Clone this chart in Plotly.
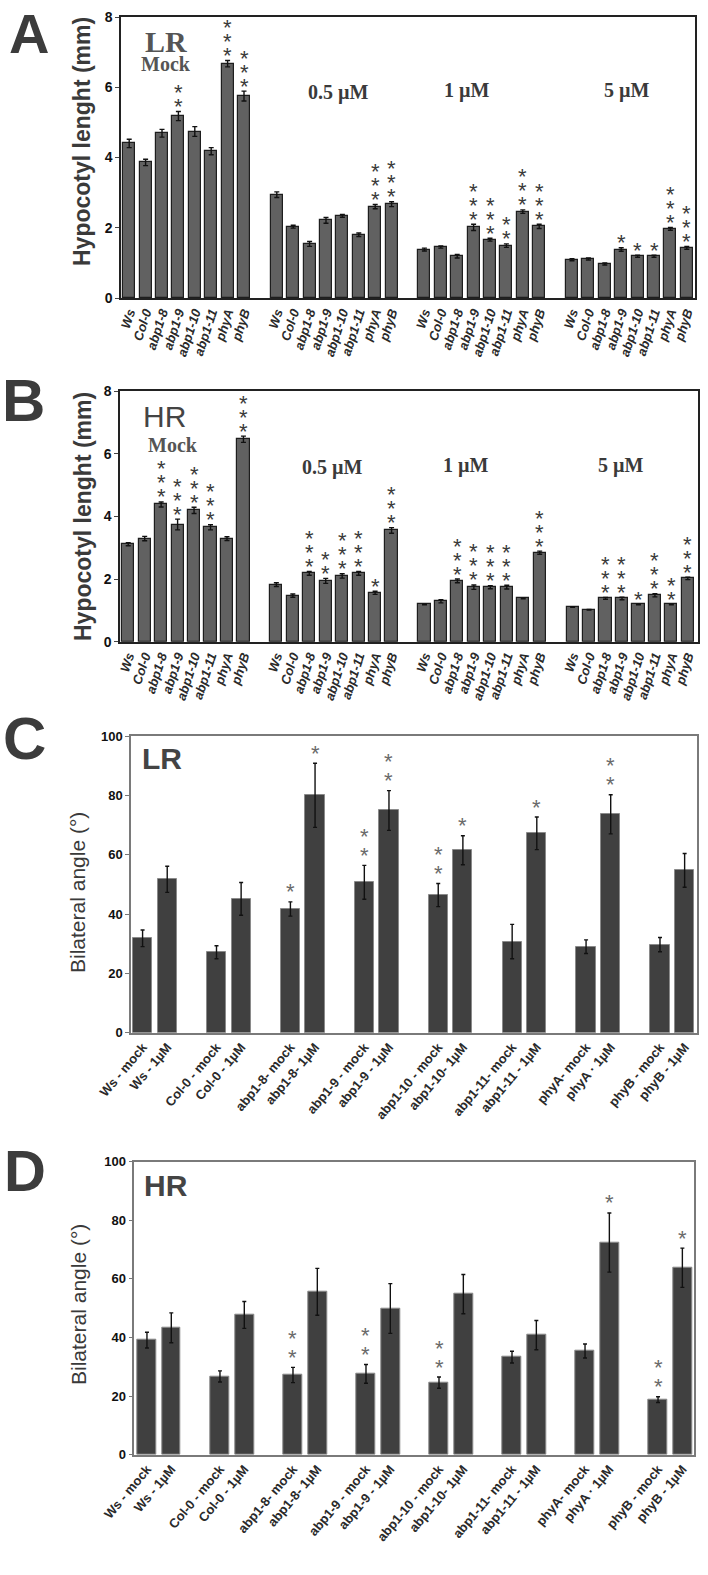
import plotly.graph_objects as go

W, H = 708, 1575

# ---------------- data ----------------
genotypes = ["Ws", "Col-0", "abp1-8", "abp1-9", "abp1-10", "abp1-11", "phyA", "phyB"]
conc_groups = ["Mock", "0.5 µM", "1 µM", "5 µM"]

# Panel A : LR hypocotyl length (mm)
lr_mock = [4.40, 3.86, 4.69, 5.18, 4.74, 4.18, 6.67, 5.75]
lr_05 = [2.94, 2.03, 1.54, 2.21, 2.34, 1.80, 2.60, 2.67]
lr_1 = [1.38, 1.45, 1.19, 2.01, 1.66, 1.49, 2.46, 2.04]
lr_5 = [1.09, 1.11, 0.97, 1.38, 1.19, 1.19, 1.97, 1.43]
lr_mock_err = [0.12, 0.09, 0.11, 0.13, 0.14, 0.10, 0.09, 0.14]
lr_05_err = [0.08, 0.04, 0.07, 0.08, 0.04, 0.05, 0.06, 0.07]
lr_1_err = [0.04, 0.03, 0.05, 0.09, 0.04, 0.05, 0.05, 0.06]
lr_5_err = [0.03, 0.03, 0.03, 0.05, 0.03, 0.03, 0.04, 0.04]
lr_mock_stars = [0, 0, 0, 2, 0, 0, 3, 3]
lr_05_stars = [0, 0, 0, 0, 0, 0, 3, 3]
lr_1_stars = [0, 0, 0, 3, 3, 2, 3, 3]
lr_5_stars = [0, 0, 0, 1, 1, 1, 3, 3]

# Panel B : HR hypocotyl length (mm)
hr_mock = [3.11, 3.29, 4.38, 3.74, 4.19, 3.65, 3.29, 6.46]
hr_05 = [1.82, 1.47, 2.18, 1.94, 2.10, 2.18, 1.56, 3.55]
hr_1 = [1.19, 1.29, 1.94, 1.74, 1.74, 1.74, 1.38, 2.84]
hr_5 = [1.11, 1.02, 1.38, 1.38, 1.19, 1.48, 1.19, 2.02]
hr_mock_err = [0.05, 0.07, 0.08, 0.17, 0.10, 0.08, 0.06, 0.10]
hr_05_err = [0.06, 0.05, 0.06, 0.08, 0.07, 0.06, 0.05, 0.09]
hr_1_err = [0.01, 0.05, 0.06, 0.07, 0.05, 0.06, 0.01, 0.05]
hr_5_err = [0.01, 0.01, 0.03, 0.04, 0.01, 0.05, 0.01, 0.04]
hr_mock_stars = [0, 0, 3, 3, 3, 3, 0, 3]
hr_05_stars = [0, 0, 3, 2, 3, 3, 1, 3]
hr_1_stars = [0, 0, 3, 3, 3, 3, 0, 3]
hr_5_stars = [0, 0, 3, 3, 1, 3, 2, 3]

# Panels C / D : bilateral angle (deg)
angle_labels = [
    "Ws - mock", "Ws - 1µM", "Col-0 - mock", "Col-0 - 1µM",
    "abp1-8- mock", "abp1-8- 1µM", "abp1-9 - mock", "abp1-9 - 1µM",
    "abp1-10 - mock", "abp1-10- 1µM", "abp1-11- mock", "abp1-11 - 1µM",
    "phyA- mock", "phyA · 1µM", "phyB - mock", "phyB - 1µM",
]
lr_angle = [31.8, 51.7, 27.1, 45.1, 41.7, 80.0, 50.7, 74.9,
            46.4, 61.5, 30.7, 67.2, 29.0, 73.6, 29.7, 54.7]
lr_angle_err = [2.8, 4.4, 2.2, 5.5, 2.4, 10.8, 5.7, 6.7,
                3.9, 4.9, 5.8, 5.5, 2.3, 6.6, 2.4, 5.7]
lr_angle_stars = [0, 0, 0, 0, 1, 1, 2, 2, 2, 1, 0, 1, 0, 2, 0, 0]

hr_angle = [39.1, 43.3, 26.7, 47.7, 27.2, 55.6, 27.6, 49.9,
            24.6, 54.8, 33.3, 40.8, 35.4, 72.4, 18.8, 63.8]
hr_angle_err = [2.7, 5.1, 1.9, 4.6, 2.6, 8.0, 3.2, 8.5,
                1.9, 6.7, 2.0, 5.0, 2.4, 10.1, 1.0, 6.7]
hr_angle_stars = [0, 0, 0, 0, 2, 0, 2, 0, 2, 0, 0, 0, 0, 1, 2, 1]

# ---------------- helpers ----------------
def dom_x(a, b):
    return [a / W, b / W]

def dom_y(top, bottom):
    return [1 - bottom / H, 1 - top / H]

SANS = "Liberation Sans, Arial, sans-serif"
SERIF = "Liberation Serif, Times New Roman, serif"

fig = go.Figure()
annotations = []

def add_stars(xs, tops, counts, axn, size, color, first, step):
    for x, t, n in zip(xs, tops, counts):
        for k in range(n):
            annotations.append(dict(
                x=x, y=t, xref=f"x{axn}", yref=f"y{axn}", text="*",
                showarrow=False, xanchor="center", yanchor="middle",
                yshift=first + k * step,
                font=dict(family=SANS, size=size, color=color)))

def paper_text(px, py, text, size, family, color, bold=False, xanchor="center", yanchor="middle"):
    annotations.append(dict(
        x=px / W, y=1 - py / H, xref="paper", yref="paper",
        text=(f"<b>{text}</b>" if bold else text), showarrow=False,
        xanchor=xanchor, yanchor=yanchor,
        font=dict(family=family, size=size, color=color)))

# ---------------- panels A & B ----------------
def length_panel(axn, groups, errs, stars):
    xs, vals, es, st, labels = [], [], [], [], []
    for g, (v, e, s) in enumerate(zip(groups, errs, stars)):
        for i, gen in enumerate(genotypes):
            xs.append(g * (len(genotypes) + 1) + i)
            vals.append(v[i]); es.append(e[i]); st.append(s[i])
            labels.append(f"<i>{gen}</i>")
    fig.add_trace(go.Bar(
        x=xs, y=vals, width=0.74, xaxis=f"x{axn}", yaxis=f"y{axn}",
        marker=dict(color="#616161", line=dict(color="#1e1e1e", width=1.2)),
        error_y=dict(type="data", array=es, color="#111", thickness=1.4, width=2.5),
        showlegend=False, hoverinfo="skip"))
    tops = [v + e for v, e in zip(vals, es)]
    add_stars(xs, tops, st, axn, 22, "#3a3a3a", 5, 14)
    return xs, labels

xa, la = length_panel(1, [lr_mock, lr_05, lr_1, lr_5],
                      [lr_mock_err, lr_05_err, lr_1_err, lr_5_err],
                      [lr_mock_stars, lr_05_stars, lr_1_stars, lr_5_stars])
xb, lb = length_panel(2, [hr_mock, hr_05, hr_1, hr_5],
                      [hr_mock_err, hr_05_err, hr_1_err, hr_5_err],
                      [hr_mock_stars, hr_05_stars, hr_1_stars, hr_5_stars])

# ---------------- panels C & D ----------------
def angle_panel(axn, vals, errs, stars):
    xs = [(i // 2) * 3 + (i % 2) for i in range(len(vals))]
    fig.add_trace(go.Bar(
        x=xs, y=vals, width=0.78, xaxis=f"x{axn}", yaxis=f"y{axn}",
        marker=dict(color="#404040", line=dict(color="#8a8a8a", width=1)),
        error_y=dict(type="data", array=errs, color="#111", thickness=1.4, width=2),
        showlegend=False, hoverinfo="skip"))
    tops = [v + e for v, e in zip(vals, errs)]
    add_stars(xs, tops, stars, axn, 22, "#6a6a6a", 10, 19)
    return xs

xc = angle_panel(3, lr_angle, lr_angle_err, lr_angle_stars)
xd = angle_panel(4, hr_angle, hr_angle_err, hr_angle_stars)

# ---------------- axes ----------------
def xaxis_len(dom, xs, labels, rng):
    return dict(domain=dom, range=rng, tickmode="array", tickvals=xs, ticktext=labels,
                tickangle=-72, tickfont=dict(family=SANS, size=13, color="#2a2a2a", weight="bold"),
                showline=True, linecolor="#222", linewidth=1.5, mirror=True,
                ticks="", showgrid=False, zeroline=False, fixedrange=True, automargin=False)

def yaxis_len(dom, anchor):
    return dict(domain=dom, range=[0, 8], dtick=2, anchor=anchor,
                tickfont=dict(family=SANS, size=14, color="#111", weight="bold"),
                showline=True, linecolor="#222", linewidth=1.5, mirror=True,
                ticks="outside", ticklen=4, tickcolor="#444",
                showgrid=False, zeroline=False, fixedrange=True, automargin=False)

def xaxis_ang(dom, xs, rng):
    return dict(domain=dom, range=rng, tickmode="array", tickvals=xs, ticktext=angle_labels,
                tickangle=-50, tickfont=dict(family=SANS, size=13, color="#2a2a2a", weight="bold"),
                showline=True, linecolor="#7a7a7a", linewidth=1.5, mirror=True,
                ticks="", showgrid=False, zeroline=False, fixedrange=True, automargin=False)

def yaxis_ang(dom, anchor):
    return dict(domain=dom, range=[0, 100], dtick=20, anchor=anchor,
                tickfont=dict(family=SANS, size=13, color="#111", weight="bold"),
                showline=True, linecolor="#7a7a7a", linewidth=1.5, mirror=True,
                ticks="outside", ticklen=4, tickcolor="#777",
                showgrid=False, zeroline=False, fixedrange=True, automargin=False)

fig.update_layout(
    xaxis=dict(**xaxis_len(dom_x(121, 695), xa, la, [-0.5, 34.5]), anchor="y"),
    yaxis=yaxis_len(dom_y(17, 298), "x"),
    xaxis2=dict(**xaxis_len(dom_x(120, 697.7), xb, lb, [-0.5, 34.6]), anchor="y2"),
    yaxis2=yaxis_len(dom_y(391, 641.7), "x2"),
    xaxis3=dict(**xaxis_ang(dom_x(131, 696.7), xc, [-0.47, 22.49]), anchor="y3"),
    yaxis3=yaxis_ang(dom_y(736, 1032.7), "x3"),
    xaxis4=dict(**xaxis_ang(dom_x(134.3, 694.3), xd, [-0.52, 22.49]), anchor="y4"),
    yaxis4=yaxis_ang(dom_y(1161.7, 1454.7), "x4"),
)

# ---------------- text ----------------
# panel letters
paper_text(7, 0, "A", 56, SANS, "#3c3c3c", True, xanchor="left", yanchor="top")
paper_text(0, 400, "B", 60, SANS, "#3c3c3c", True, xanchor="left")
paper_text(24, 738, "C", 60, SANS, "#3c3c3c", True)
paper_text(25, 1170, "D", 58, SANS, "#3c3c3c", True)

# y titles
for px, py, txt, sz, bold in [(82, 142, "Hypocotyl lenght (mm)", 23, True),
                              (83, 517, "Hypocotyl lenght (mm)", 23, True),
                              (77, 893, "Bilateral angle (°)", 21, False),
                              (78, 1305, "Bilateral angle (°)", 21, False)]:
    annotations.append(dict(x=px / W, y=1 - py / H, xref="paper", yref="paper",
                            text=(f"<b>{txt}</b>" if bold else txt), textangle=-90,
                            showarrow=False, xanchor="center", yanchor="middle",
                            font=dict(family=SANS, size=sz, color="#3a3a3a")))

# in-plot group labels
paper_text(166, 42, "LR", 30, SERIF, "#555", True)
paper_text(166, 64, conc_groups[0], 20, SERIF, "#555", True)
for px, py, g in [(338, 92, 1), (467, 90, 2), (627, 90, 3)]:
    paper_text(px, py, conc_groups[g], 20, SERIF, "#3a3a3a", True)

paper_text(164, 416, "HR", 30, SANS, "#444", False)
paper_text(173, 445, conc_groups[0], 20, SERIF, "#555", True)
for px, py, g in [(332, 467, 1), (466, 465, 2), (621, 465, 3)]:
    paper_text(px, py, conc_groups[g], 20, SERIF, "#3a3a3a", True)

paper_text(162, 759, "LR", 30, SANS, "#444", True)
paper_text(166, 1185, "HR", 30, SANS, "#444", True)

fig.update_layout(
    annotations=annotations,
    width=W, height=H,
    margin=dict(l=0, r=0, t=0, b=0, autoexpand=False),
    paper_bgcolor="white", plot_bgcolor="white",
    bargap=0, showlegend=False,
)

fig.write_html("out.html", config={"displayModeBar": False},
               post_script="document.body.style.margin='0';")
